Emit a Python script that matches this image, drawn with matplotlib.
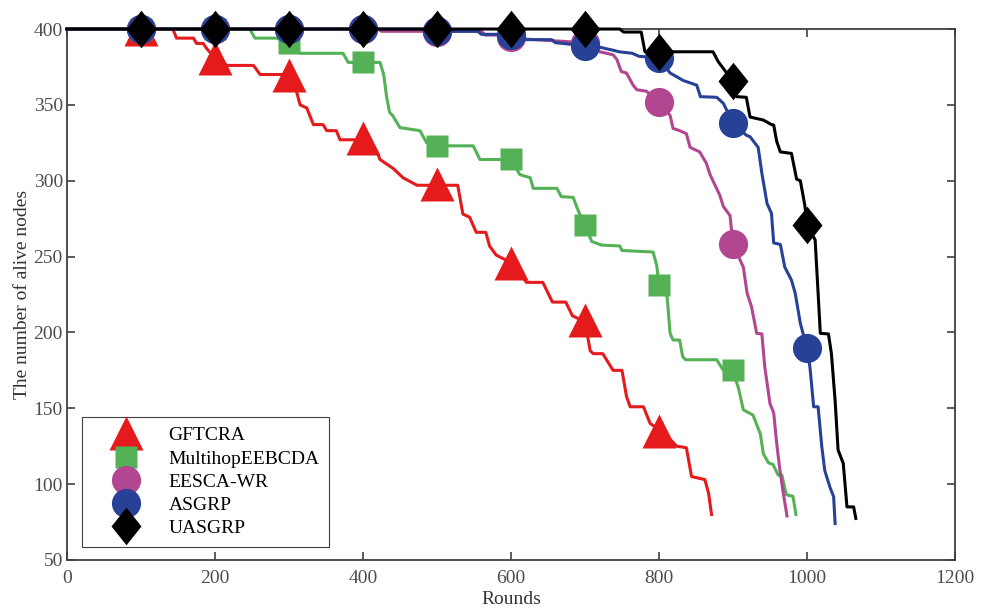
import matplotlib
matplotlib.use("Agg")
import matplotlib.pyplot as plt
from matplotlib.lines import Line2D

plt.rcParams['font.family'] = ['Liberation Serif', 'DejaVu Serif']
plt.rcParams['font.size'] = 14

# curves (rounds, alive nodes)
red_x = [0, 143, 148, 171, 175, 184, 189, 200, 216, 252, 261, 283, 301, 308, 315, 324, 333, 346, 351, 364,
         369, 382, 400, 410, 418, 423, 441, 454, 473, 500, 528, 535, 544, 553, 566, 571, 580, 600, 621, 643,
         656, 674, 683, 700, 707, 711, 724, 738, 750, 756, 761, 779, 788, 800, 814, 824, 837, 844, 862, 867, 871]
red_y = [400, 400, 394, 394, 390.5, 390.5, 387, 381, 376, 376, 370, 370, 370, 363, 350, 348, 337, 337, 333, 333,
         327, 327, 327, 320, 320, 314, 308, 302, 297, 297, 297, 278, 276, 266, 266, 257, 251, 246, 233, 233,
         220, 220, 211, 207, 188, 186, 186, 175, 175, 158, 151, 151, 140, 136, 130, 125, 124, 105, 103, 94, 80]

green_x = [0, 247, 254, 283, 300, 315, 373, 380, 400, 423, 428, 432, 436, 440, 450, 477, 486, 500, 549, 558,
           600, 612, 626, 630, 662, 668, 684, 691, 700, 709, 722, 747, 750, 792, 797, 800, 811, 815, 819, 828,
           832, 836, 878, 887, 900, 907, 914, 927, 937, 941, 948, 954, 961, 966, 972, 981, 985]
green_y = [400, 400, 394, 394, 391, 384, 384, 378, 378, 378, 370, 355, 345, 343, 335, 333, 325, 323, 323, 314,
           314, 304, 302, 295, 295, 289.5, 289, 280, 271, 260, 257.6, 257, 254, 253, 244, 231, 223.5, 199.4, 195, 195,
           184, 182, 182, 175, 174, 164, 149, 145.5, 133, 120, 114, 113, 106, 106, 93, 92, 80]

pink_x = [0, 420, 425, 560, 565, 610, 615, 700, 715, 720, 738, 743, 749, 756, 765, 770, 783, 800, 815, 819,
          828, 837, 842, 855, 864, 869, 882, 887, 896, 900, 914, 919, 925, 932, 939, 943, 950, 955, 959, 964,
          968, 973]
pink_y = [400, 400, 398.5, 398.5, 396, 396, 393.5, 391, 388, 385, 383, 380, 372, 371, 363, 360, 359, 352, 343, 334.5,
          333, 331, 322, 319, 311.5, 304, 290.6, 283, 277, 258, 243, 226, 217, 199.4, 199, 177, 153, 147, 127, 107,
          94, 79]

blue_x = [0, 480, 485, 555, 560, 608, 612, 655, 660, 700, 720, 738, 746, 764, 773, 800, 815, 833, 851, 856,
          878, 887, 900, 918, 923, 934, 939, 946, 952, 955, 964, 970, 979, 984, 991, 1000, 1004, 1009, 1015, 1020,
          1024, 1031, 1036, 1038]
blue_y = [400, 400, 398.5, 398.5, 396.5, 396.5, 393, 393, 391, 389, 388, 386, 385, 384, 382, 381, 371, 366, 363, 355.4,
          355, 351, 338, 330, 329, 322, 305, 285, 278.5, 259, 258, 243, 234.5, 226, 206, 189.5, 177, 151, 151, 124.7,
          109, 98, 91.7, 74]

black_x = [0, 747, 752, 776, 781, 873, 880, 890, 900, 905, 918, 923, 941, 952, 955, 959, 964, 979, 986, 991,
           997, 1000, 1011, 1015, 1018, 1029, 1033, 1038, 1042, 1049, 1054, 1063, 1066]
black_y = [400, 400, 398, 398, 385, 385, 378.5, 372, 366, 355.4, 355, 342, 340, 337, 336.7, 326, 319, 318, 301, 300,
           284, 271, 261, 226, 199.4, 199, 186, 155, 122.5, 113.7, 85, 85, 77.4]

# marker values every 100 rounds
mk_rounds = [100, 200, 300, 400, 500, 600, 700, 800, 900, 1000]
red_mk = [400, 381, 370, 328, 298, 246, 208, 135]
green_mk = [400, 400, 391, 378, 323, 314, 271, 231, 175]
pink_mk = [400, 400, 400, 400, 398, 395, 391, 352, 258]
blue_mk = [400, 400, 400, 400, 399, 396, 389, 381, 338, 189.5]
black_mk = [400, 400, 400, 400, 400, 400, 400, 385, 366, 271]

labels = ['GFTCRA', 'MultihopEEBCDA', 'EESCA-WR', 'ASGRP', 'UASGRP']
colors = ['#e41a1c', '#55b156', '#b24690', '#274196', '#000000']
# diamond a bit taller than wide, like MATLAB's 'd'
tall_diamond = [(0, 1), (0.8, 0), (0, -1), (-0.8, 0), (0, 1)]
markers = ['^', 's', 'o', 'o', tall_diamond]
msizes = [24, 16, 21, 21, 27]

series = [(red_x, red_y, red_mk), (green_x, green_y, green_mk), (pink_x, pink_y, pink_mk),
          (blue_x, blue_y, blue_mk), (black_x, black_y, black_mk)]

fig = plt.figure(figsize=(9.88, 6.11), dpi=100)
ax = fig.add_axes([0.0678, 0.0835, 0.8988, 0.869])

handles = []
for i, (xs, ys, mk) in enumerate(series):
    ax.plot(xs, ys, color=colors[i], lw=2.2, zorder=2 + i, clip_on=False)
    ax.plot(mk_rounds[:len(mk)], mk, ls='none', marker=markers[i], ms=msizes[i],
            color=colors[i], mec='none', zorder=2 + i, clip_on=False)
    handles.append(Line2D([], [], ls='none', marker=markers[i], ms=msizes[i], color=colors[i], mec='none'))

ax.set_xlim(0, 1200)
ax.set_ylim(50, 400)
ax.set_xticks(range(0, 1201, 200))
ax.set_yticks(range(50, 401, 50))
ax.tick_params(direction='in', top=True, right=True, length=6, width=1.2, colors='#404040',
               labelcolor='#4d4d4d', labelsize=14)
ax.tick_params(axis='x', pad=7)
ax.tick_params(axis='y', pad=3)
for s in ax.spines.values():
    s.set_color('#404040')
    s.set_linewidth(1.3)

ax.set_xlabel('Rounds', fontsize=14, color='#333333', labelpad=3)
ax.set_ylabel('The number of alive nodes', fontsize=14, color='#333333', labelpad=2)

leg = ax.legend(handles, labels, loc='lower left', bbox_to_anchor=(0.017, 0.0245), borderaxespad=0,
                fancybox=False, framealpha=1, edgecolor='#404040', fontsize=14,
                handlelength=3.5, handletextpad=0.45, labelspacing=0.29, borderpad=0.5)
leg.get_frame().set_linewidth(0.8)
leg.set_zorder(10)

fig.savefig('out.png', dpi=100)
